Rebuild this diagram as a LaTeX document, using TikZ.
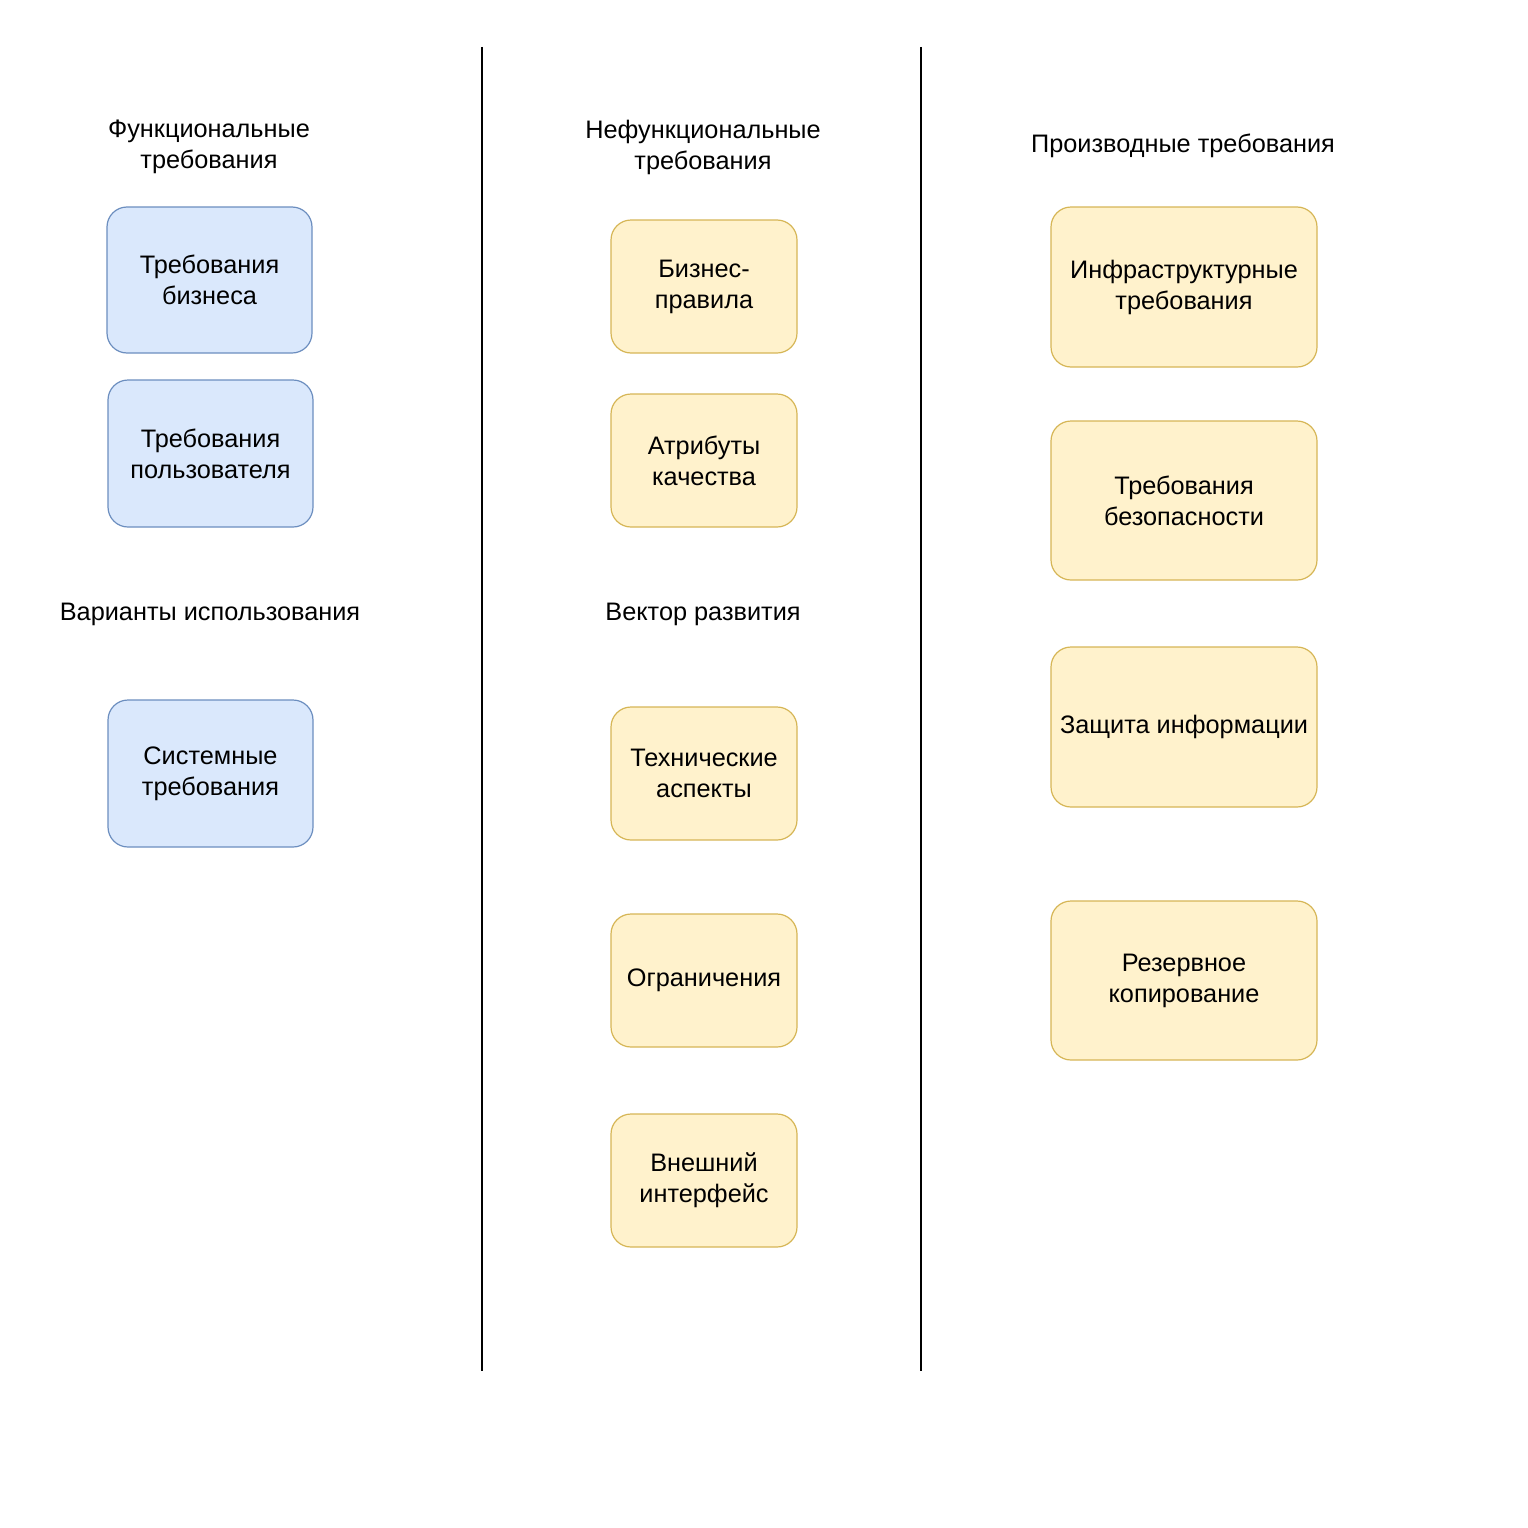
\documentclass[tikz,border=0pt]{standalone}
\usepackage{fontspec}
\setmainfont{Liberation Sans}
\definecolor{bfill}{HTML}{DAE8FC}
\definecolor{bdraw}{HTML}{6C8EBF}
\definecolor{yfill}{HTML}{FFF2CC}
\definecolor{ydraw}{HTML}{D6B656}
\begin{document}
\begin{tikzpicture}[x=1pt,y=-1pt,
  txt/.style={font=\fontsize{25.3}{31}\selectfont, align=center, inner sep=0pt},
  bluebox/.style={txt, draw=bdraw, fill=bfill, rounded corners=20pt, line width=1.2pt},
  yelbox/.style={txt, draw=ydraw, fill=yfill, rounded corners=20pt, line width=1.2pt},
  sep/.style={line width=1.1pt, black}]
\useasboundingbox (0,0) rectangle (1527,1528);
% separators
\coordinate (s1t) at (482,47); \coordinate (s1b) at (482,1371);
\coordinate (s2t) at (921,47); \coordinate (s2b) at (921,1371);
\draw[sep] (s1t) -- (s1b);
\draw[sep] (s2t) -- (s2b);
% titles
\node[txt] (t1) at (209,147) {Функциональные\\требования};
\node[txt] (t2) at (703,147) {Нефункциональные\\требования};
\node[txt] (t3) at (1183,146) {Производные требования};
\node[txt] (t4) at (210,614) {Варианты использования};
\node[txt] (t5) at (703,614) {Вектор развития};
% left column
\node[bluebox, minimum width=205pt, minimum height=146pt] (b1) at (209.5,280) {Требования\\бизнеса};
\node[bluebox, minimum width=205pt, minimum height=147pt] (b2) at (210.5,453.5) {Требования\\пользователя};
\node[bluebox, minimum width=205pt, minimum height=147pt] (b3) at (210.5,773.5) {Системные\\требования};
% middle column
\node[yelbox, minimum width=186pt, minimum height=133pt] (m1) at (704,286.5) {Бизнес-\\правила};
\node[yelbox, minimum width=186pt, minimum height=133pt] (m2) at (704,460.5) {Атрибуты\\качества};
\node[yelbox, minimum width=186pt, minimum height=133pt] (m3) at (704,773.5) {Технические\\аспекты};
\node[yelbox, minimum width=186pt, minimum height=133pt] (m4) at (704,980.5) {Ограничения};
\node[yelbox, minimum width=186pt, minimum height=133pt] (m5) at (704,1180.5) {Внешний\\интерфейс};
% right column
\node[yelbox, minimum width=266pt, minimum height=160pt] (r1) at (1184,287) {Инфраструктурные\\требования};
\node[yelbox, minimum width=266pt, minimum height=159pt] (r2) at (1184,500.5) {Требования\\безопасности};
\node[yelbox, minimum width=266pt, minimum height=160pt] (r3) at (1184,727) {Защита информации};
\node[yelbox, minimum width=266pt, minimum height=159pt] (r4) at (1184,980.5) {Резервное\\копирование};
\end{tikzpicture}
\end{document}
